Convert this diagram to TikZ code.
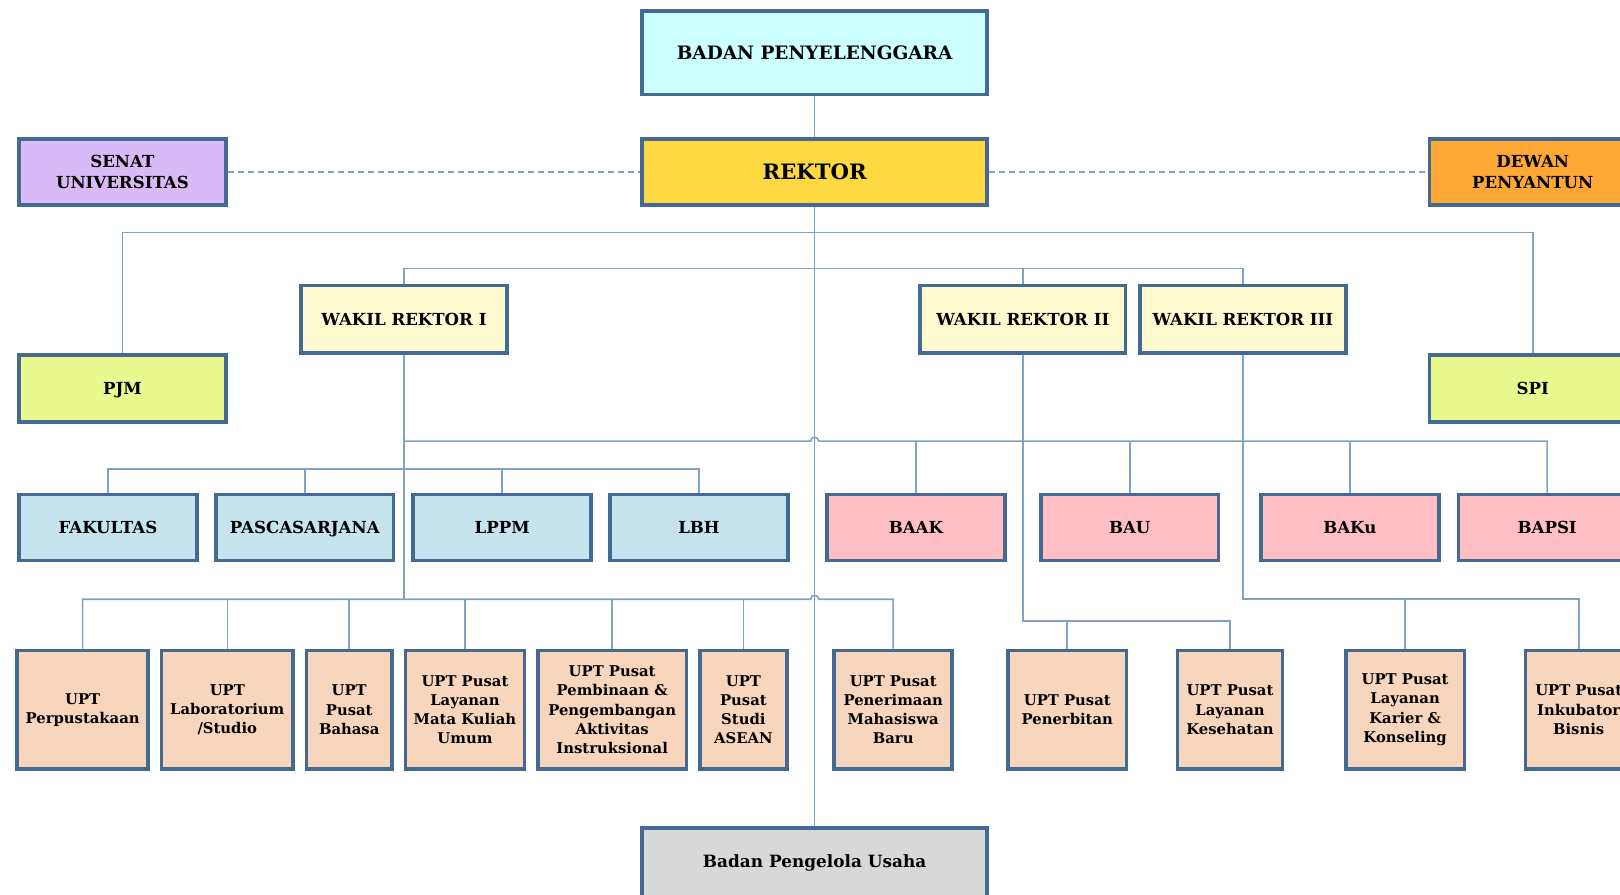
\documentclass[tikz,border=0pt]{standalone}
\usepackage{fontspec}
\setmainfont{DejaVu Serif}
\definecolor{boxedge}{RGB}{68,106,148}
\definecolor{wire}{RGB}{128,163,196}
\definecolor{cyanbox}{RGB}{204,255,255}
\definecolor{goldbox}{RGB}{253,216,64}
\definecolor{lilacbox}{RGB}{218,186,246}
\definecolor{orangebox}{RGB}{253,168,52}
\definecolor{creambox}{RGB}{255,251,208}
\definecolor{limebox}{RGB}{234,249,142}
\definecolor{bluebox}{RGB}{198,228,238}
\definecolor{pinkbox}{RGB}{255,190,196}
\definecolor{peachbox}{RGB}{248,214,190}
\definecolor{greybox}{RGB}{216,216,216}
\begin{document}
\begin{tikzpicture}[x=0.5166pt,y=-0.5166pt,
	boxsize/.style 2 args={minimum width=#1*0.5166pt,minimum height=#2*0.5166pt},
	box/.style={draw=boxedge,line width=1.8pt,align=center,inner sep=0pt,font=\bfseries\fontsize{8.3}{10.8}\selectfont},
	flat/.style={text depth=0pt},
	side/.style={box,boxsize={200}{64}},
	wakil/.style={box,flat,fill=creambox,boxsize={199}{65}},
	office/.style={box,flat,fill=bluebox,boxsize={172}{64}},
	bureau/.style={box,flat,fill=pinkbox,boxsize={172}{64}},
	upt/.style={box,fill=peachbox,boxsize={#1}{115},font=\bfseries\fontsize{7.4}{9.6}\selectfont},
	link/.style={draw=wire,line width=0.8pt},
	loose/.style={link,dash pattern=on 3pt off 2pt}]
	\useasboundingbox (0,0) rectangle (1568,865.3);

	% Top
	\node[box,flat,fill=cyanbox,boxsize={334}{81},font=\bfseries\fontsize{9.25}{12}\selectfont] (bp) at (788.5,51) {BADAN PENYELENGGARA};
	\node[box,flat,fill=goldbox,boxsize={334}{64},font=\bfseries\fontsize{10.6}{13}\selectfont] (rek) at (788.5,166.5) {REKTOR};
	\node[side,fill=lilacbox] (sen) at (118.5,166.5) {SENAT\\UNIVERSITAS};
	\node[side,fill=orangebox] (dew) at (1483.5,166.5) {DEWAN\\PENYANTUN};
	\node[side,flat,fill=limebox,boxsize={200}{65}] (pjm) at (118.5,376) {PJM};
	\node[side,flat,fill=limebox,boxsize={200}{65}] (spi) at (1483.5,376) {SPI};

	% Wakil rektor
	\node[wakil] (wr1) at (391,309) {WAKIL REKTOR I};
	\node[wakil] (wr2) at (990,309) {WAKIL REKTOR II};
	\node[wakil] (wr3) at (1203,309) {WAKIL REKTOR III};

	% Units
	\node[office] (fak) at (104.5,510.5) {FAKULTAS};
	\node[office] (pas) at (295,510.5) {PASCASARJANA};
	\node[office] (lppm) at (486,510.5) {LPPM};
	\node[office] (lbh) at (676.5,510.5) {LBH};
	\node[bureau] (baak) at (886.5,510.5) {BAAK};
	\node[bureau] (bau) at (1093.5,510.5) {BAU};
	\node[bureau] (baku) at (1306.5,510.5) {BAKu};
	\node[bureau] (bapsi) at (1497.5,510.5) {BAPSI};

	% UPT
	\node[upt=127] (perp) at (80,687) {UPT\\Perpustakaan};
	\node[upt=127] (lab) at (220,687) {UPT\\Laboratorium\\/Studio};
	\node[upt=83] (bhs) at (338,687) {UPT\\Pusat\\Bahasa};
	\node[upt=115] (mku) at (450,687) {UPT Pusat\\Layanan\\Mata Kuliah\\Umum};
	\node[upt=144] (ppai) at (592.5,687) {UPT Pusat\\Pembinaan \&\\Pengembangan\\Aktivitas\\Instruksional};
	\node[upt=84] (asean) at (719.5,687) {UPT\\Pusat\\Studi\\ASEAN};
	\node[upt=114] (pmb) at (864.5,687) {UPT Pusat\\Penerimaan\\Mahasiswa\\Baru};
	\node[upt=115] (terb) at (1033,687) {UPT Pusat\\Penerbitan};
	\node[upt=102] (kes) at (1190.5,687) {UPT Pusat\\Layanan\\Kesehatan};
	\node[upt=115] (kar) at (1360,687) {UPT Pusat\\Layanan\\Karier \&\\Konseling};
	\node[upt=103] (ink) at (1528,687) {UPT Pusat\\Inkubator\\Bisnis};

	\node[box,fill=greybox,boxsize={334}{67},font=\bfseries\fontsize{8.45}{10}\selectfont] (bpu) at (788.5,835) {Badan Pengelola Usaha};

	% Bus points
	\coordinate (topbus) at (788.5,225);
	\coordinate (wrbus) at (788.5,260);
	\coordinate (midbus) at (788.5,427);
	\coordinate (uptbus) at (788.5,580);
	\coordinate (wr2bus) at (990,601);
	\coordinate (wr3bus) at (1203,580);

	% Connectors
	\draw[link] (bp) -- (rek);
	\draw[loose] (sen) -- (rek);
	\draw[loose] (rek) -- (dew);
	\draw[link] (rek.south) -- (bpu.north);
	\draw[link] (pjm.north) |- (topbus) -| (spi.north);
	\draw[link] (wr1.north) |- (wrbus) -| (wr3.north);
	\draw[link] (wr2.north) |- (wrbus);
	\draw[link] (wr1.south) -- (wr1.south |- uptbus);
	\draw[link] (wr1.south |- midbus) -- ([xshift=-2pt]midbus) arc[start angle=180,end angle=0,radius=2pt] -| (bapsi.north);
	\foreach \n in {baak,bau,baku}
		\draw[link] (\n.north) -- (\n.north |- midbus);
	\draw[link] (fak.north) -- ++(0,-23) -| (lbh.north);
	\foreach \n in {pas,lppm}
		\draw[link] (\n.north) -- ++(0,-23);
	\draw[link] (perp.north) |- ([xshift=-2pt]uptbus) arc[start angle=180,end angle=0,radius=2pt] -| (pmb.north);
	\foreach \n in {lab,bhs,mku,ppai,asean}
		\draw[link] (\n.north) -- (\n.north |- uptbus);
	\draw[link] (wr2.south) -- (wr2bus) -| (kes.north);
	\draw[link] (terb.north) -- (terb.north |- wr2bus);
	\draw[link] (wr3.south) -- (wr3bus) -| (ink.north);
	\draw[link] (kar.north) -- (kar.north |- wr3bus);
\end{tikzpicture}
\end{document}
